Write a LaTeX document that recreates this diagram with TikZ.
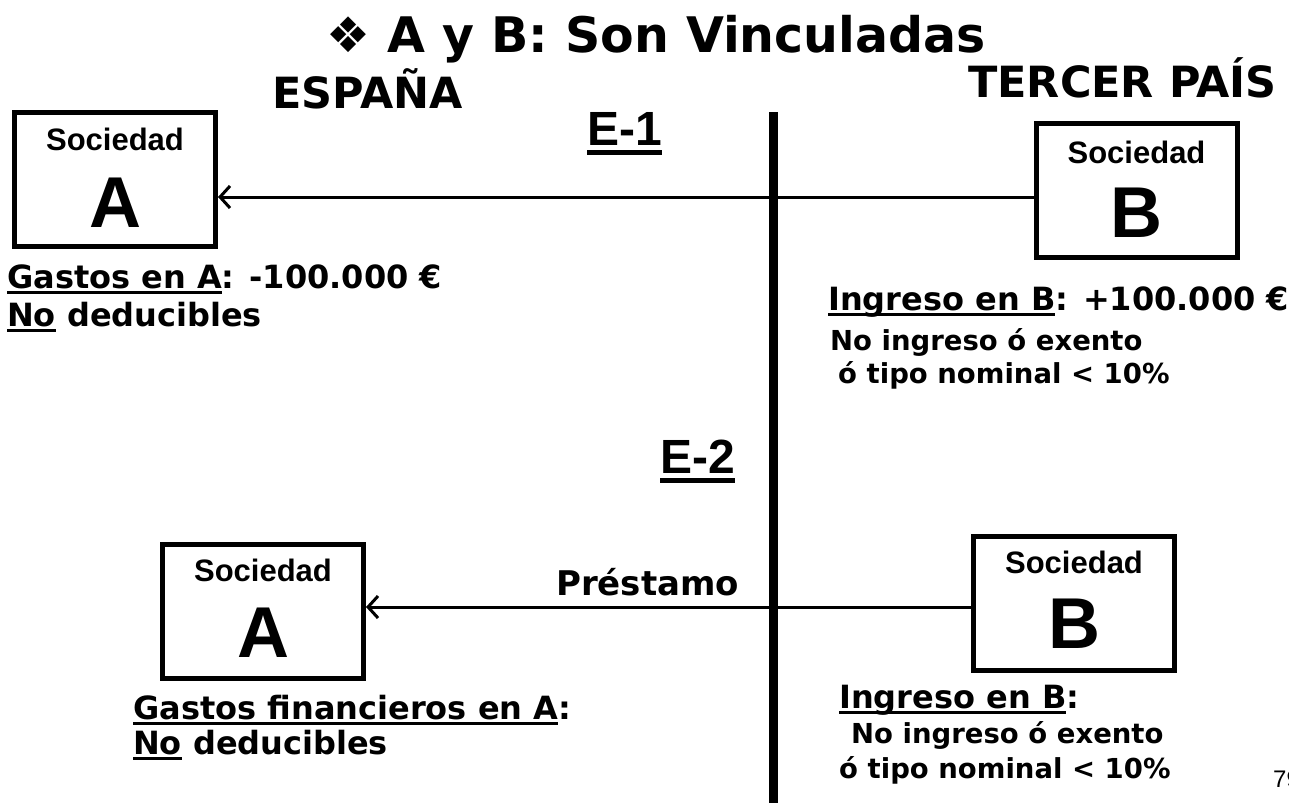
\documentclass[tikz,border=0pt]{standalone}
\usepackage{fontspec}
\usetikzlibrary{arrows.meta}
\newfontfamily\vfont{DejaVu Sans}
\newfontfamily\afont{Liberation Sans}
\newcommand\fsz[1]{\fontsize{#1}{#1}\selectfont}
\newcommand\ulx[1]{\setbox0=\hbox{#1}\rlap{\rule[-6pt]{\wd0}{3.5pt}}\box0\relax}
\newcommand\ulb[1]{\setbox0=\hbox{#1}\rlap{\rule[-10pt]{\wd0}{5pt}}\box0\relax}
\tikzset{
  box/.style={draw, line width=5pt, minimum width=201pt, minimum height=134pt, inner sep=0pt},
  soc/.style={anchor=base, inner sep=0pt, font=\afont\bfseries\fsz{31}},
  big/.style={anchor=base, inner sep=0pt, font=\afont\bfseries\fsz{72}},
  lbl/.style={anchor=base west, inner sep=0pt, font=\vfont\bfseries\fsz{32}},
  sml/.style={anchor=base west, inner sep=0pt, font=\vfont\bfseries\fsz{27.5}},
  head/.style={anchor=base west, inner sep=0pt, font=\vfont\bfseries\fsz{43}},
  enode/.style={anchor=base west, inner sep=0pt, font=\afont\bfseries\fsz{48}},
  link/.style={line width=3pt, -{Straight Barb[length=10pt,width=22pt]}},
}
\begin{document}
\begin{tikzpicture}[x=1pt,y=-1pt]
\clip (0,0) rectangle (1289,803);
\fill[white] (0,0) rectangle (1289,803);
% title and headings
\node[anchor=base west, inner sep=0pt, font=\vfont\bfseries\fsz{49}] (title) at (326,52) {❖ A y B: Son Vinculadas};
\node[head] (es) at (272,108) {ESPAÑA};
\node[head] (tp) at (968,97) {TERCER PAÍS};
% dividing line
\coordinate (vt) at (773,112);
\coordinate (vb) at (773,803);
\draw[line width=9pt] (vt) -- (vb);
% E-1
\node[enode] (e1) at (587,145) {\ulb{E-1}};
\node[box] (a1) at (115,179) {};
\node[soc] (a1s) at (115,150) {Sociedad};
\node[big] (a1l) at (115,227) {A};
\node[box] (b1) at (1136.5,190) {};
\node[soc] (b1s) at (1136.5,163) {Sociedad};
\node[big] (b1l) at (1136.5,237) {B};
\draw[link] (b1.west |- 0,197) -- (a1.east |- 0,197);
\node[lbl] (ga) at (7,288) {\ulx{Gastos en A}: -100.000 €};
\node[lbl] (nd1) at (7,326) {\ulx{No} deducibles};
\node[lbl] (ib) at (828,310) {\ulx{Ingreso en B}: +100.000 €};
\node[sml] (ni1) at (830,350) {No ingreso ó exento};
\node[sml] (tn1) at (838,383) {ó tipo nominal < 10\%};
% E-2
\node[enode] (e2) at (660,473) {\ulb{E-2}};
\node[box] (a2) at (263,611.5) {};
\node[soc] (a2s) at (263,581) {Sociedad};
\node[big] (a2l) at (263,657) {A};
\node[box] (b2) at (1074,603.5) {};
\node[soc] (b2s) at (1074,573) {Sociedad};
\node[big] (b2l) at (1074,648) {B};
\draw[link] (b2.west |- 0,607) -- (a2.east |- 0,607);
\node[lbl, font=\vfont\bfseries\fsz{34}] (pr) at (556,595) {Préstamo};
\node[lbl] (gf) at (133,719) {\ulx{Gastos financieros en A}:};
\node[lbl] (nd2) at (133,754) {\ulx{No} deducibles};
\node[lbl] (ib2) at (839,708) {\ulx{Ingreso en B}:};
\node[sml] (ni2) at (851,743) {No ingreso ó exento};
\node[sml] (tn2) at (839,778) {ó tipo nominal < 10\%};
\node[anchor=base west, inner sep=0pt, font=\afont\fsz{24}] (pg) at (1273,787) {79};
\end{tikzpicture}
\end{document}
